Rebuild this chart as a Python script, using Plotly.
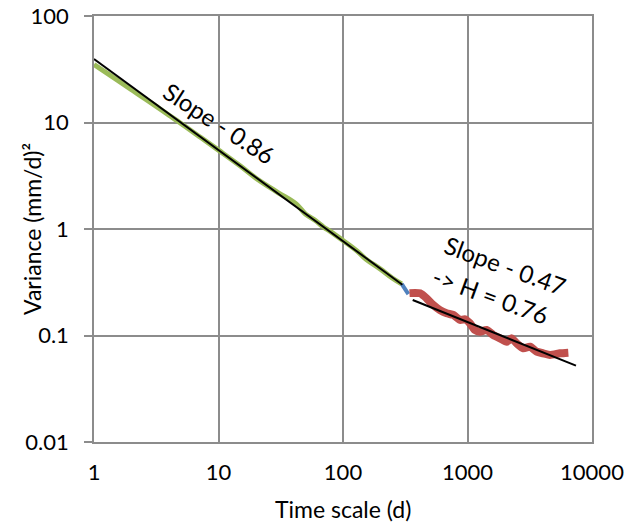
import plotly.graph_objects as go

# Data
green_x = [1, 1.5, 2, 3, 4, 5, 7, 10, 15, 20, 30, 42, 50, 60, 70, 80, 100, 130, 150, 200, 250, 296]
green_y = [35, 25.5, 20.3, 14.8, 11.7, 9.8, 7.4, 5.5, 3.9, 3.0, 2.2, 1.72, 1.38, 1.2, 1.04, 0.94, 0.78, 0.62, 0.53, 0.42, 0.345, 0.305]

blue_x = [296, 335]
blue_y = [0.305, 0.245]

red_x = [342, 416, 470, 531, 601, 680, 769, 871, 955, 1047, 1148, 1260, 1425, 1612, 1824,
         2064, 2264, 2483, 2809, 3177, 3594, 4065, 4599, 5533, 6457]
red_y = [0.25, 0.249, 0.223, 0.193, 0.173, 0.1615, 0.156, 0.140, 0.142, 0.130, 0.1127, 0.1087,
         0.1127, 0.101, 0.094, 0.0875, 0.094, 0.0844, 0.0758, 0.0785, 0.0705, 0.068, 0.0657, 0.068, 0.069]

fit1_x = [1, 300]
fit1_y = [39.5, 0.30]
fit2_x = [363, 7435]
fit2_y = [0.2155, 0.0521]

x_ticks = [1, 10, 100, 1000, 10000]
x_ticktext = ["1", "10", "100", "1000", "10000"]
y_ticks = [0.01, 0.1, 1, 10, 100]
y_ticktext = ["0.01", "0.1", "1", "10", "100"]

x_title = "Time scale (d)"
y_title = "Variance (mm/d)²"
label_fit1 = "Slope - 0.86"
label_fit2 = "Slope - 0.47"
label_h = "-> H = 0.76"

FONT = "Lato, 'Open Sans', sans-serif"
GRID = "#8c8c8c"

fig = go.Figure()
fig.add_trace(go.Scatter(x=green_x, y=green_y, mode="lines",
                         line=dict(color="#9bbb59", width=5), line_shape="spline"))
fig.add_trace(go.Scatter(x=blue_x, y=blue_y, mode="lines",
                         line=dict(color="#4f81bd", width=4)))
fig.add_trace(go.Scatter(x=red_x, y=red_y, mode="lines",
                         line=dict(color="#c0504d", width=8), line_shape="spline",
                         line_smoothing=0.6))
fig.add_trace(go.Scatter(x=fit1_x, y=fit1_y, mode="lines",
                         line=dict(color="black", width=2)))
fig.add_trace(go.Scatter(x=fit2_x, y=fit2_y, mode="lines",
                         line=dict(color="black", width=2)))

ann_font = dict(size=24, color="black", family=FONT)
fig.add_annotation(x=1.012, y=0.995, xref="x", yref="y", text=label_fit1,
                   textangle=33, showarrow=False, font=ann_font)
fig.add_annotation(x=3.307, y=-0.338, xref="x", yref="y", text=label_fit2,
                   textangle=20, showarrow=False, font=ann_font)
fig.add_annotation(x=3.186, y=-0.629, xref="x", yref="y", text=label_h,
                   textangle=20, showarrow=False, font=ann_font)

# axis titles
fig.add_annotation(x=0.5, y=-0.157, xref="paper", yref="paper", text=x_title,
                   showarrow=False, xanchor="center", yanchor="middle",
                   font=dict(size=23, color="black", family=FONT))
fig.add_annotation(x=-0.1245, y=0.5, xref="paper", yref="paper", text=y_title,
                   textangle=-90, showarrow=False, xanchor="center", yanchor="middle",
                   font=dict(size=23, color="black", family=FONT))

fig.update_layout(
    width=637, height=523,
    margin=dict(l=94, r=45, t=16, b=81, autoexpand=False),
    paper_bgcolor="white", plot_bgcolor="white",
    showlegend=False,
    font=dict(family=FONT, size=22, color="black"),
    xaxis=dict(type="log", range=[0, 4], tickvals=x_ticks, ticktext=x_ticktext,
               showgrid=True, gridcolor=GRID, gridwidth=1.5,
               showline=True, linecolor=GRID, linewidth=1.5, mirror=True,
               ticks="", ticklabelstandoff=10, zeroline=False, automargin=False,
               tickfont=dict(size=22, family=FONT, color="black")),
    yaxis=dict(type="log", range=[-2, 2], tickvals=y_ticks, ticktext=y_ticktext,
               showgrid=True, gridcolor=GRID, gridwidth=1.5,
               showline=True, linecolor=GRID, linewidth=1.5, mirror=True,
               ticks="outside", ticklen=8, tickcolor=GRID, tickwidth=1.5,
               ticklabelstandoff=11, zeroline=False, automargin=False,
               tickfont=dict(size=22, family=FONT, color="black")),
)

fig.write_html("out.html", config={"displayModeBar": False},
               post_script="document.body.style.margin='0px';")
